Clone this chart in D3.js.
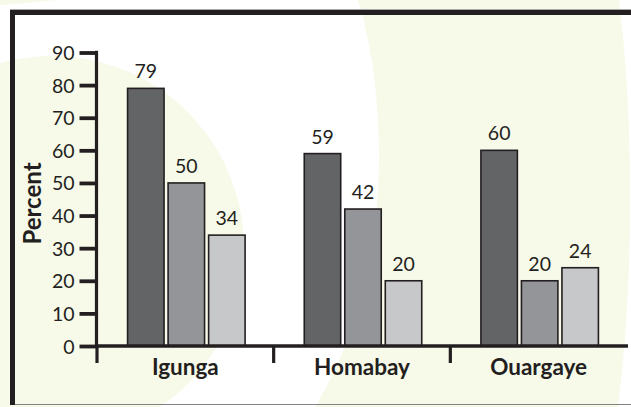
<!DOCTYPE html>
<html>
<head>
<meta charset="utf-8">
<script src="https://cdn.jsdelivr.net/npm/d3@7"></script>
<style>
  html, body { margin: 0; padding: 0; background: #ffffff; }
  svg { display: block; }
  text { font-family: Lato, "Open Sans", sans-serif; fill: #231f20; }
</style>
</head>
<body>
<script>
// Survey sites and the three bars drawn for each
const categories = ["Igunga", "Homabay", "Ouargaye"];
const seriesA = [79, 59, 60];
const seriesB = [50, 42, 20];
const seriesC = [34, 20, 24];
const yTicks = [0, 10, 20, 30, 40, 50, 60, 70, 80, 90];
const yLabel = "Percent";

const W = 631, H = 407;
const ink = "#231f20";
const pale = "#f7f9e9";
const fills = ["#636466", "#939598", "#c7c8ca"];

const svg = d3.select("body").append("svg")
  .attr("width", W).attr("height", H);

// soft decorative shapes behind the chart
const bg = svg.append("g");
bg.append("path").attr("d", "M0,0 L0,5 Q30,3 57,0 Z").attr("fill", pale);
bg.append("circle").attr("cx", 52).attr("cy", 248).attr("r", 192).attr("fill", pale);
bg.append("path")
  .attr("d", "M358,0 C386,90 398,270 315,407 L618,407 C634,280 634,120 619,0 Z")
  .attr("fill", pale);

// frame
svg.append("line").attr("x1", 10).attr("x2", W).attr("y1", 9.5).attr("y2", 9.5)
  .attr("stroke", "#a7a9ac").attr("stroke-width", 1);
svg.append("line").attr("x1", 10).attr("x2", W).attr("y1", 404.5).attr("y2", 404.5)
  .attr("stroke", "#808285").attr("stroke-width", 1.2);
svg.append("rect").attr("x", 10).attr("y", 10).attr("width", W - 10).attr("height", 5).attr("fill", ink);
svg.append("rect").attr("x", 10).attr("y", 10).attr("width", 5).attr("height", 395).attr("fill", ink);

// scales
const x0 = d3.scaleBand().domain(categories).range([97, 627]).padding(0);
const groupW = 117.5;
const inner = (x0.bandwidth() - groupW) / 2 + 1;
const x1 = d3.scaleBand().domain([0, 1, 2]).range([inner, inner + groupW]).paddingInner(0.1);
const y = d3.scaleLinear().domain([0, 90]).range([346, 52.5]);

// bars
const series = [seriesA, seriesB, seriesC];
const rows = [];
categories.forEach((c, i) => series.forEach((s, k) => rows.push({ c, k, v: s[i] })));

const bars = svg.append("g");
bars.selectAll("rect").data(rows).join("rect")
  .attr("x", d => x0(d.c) + x1(d.k))
  .attr("y", d => y(d.v))
  .attr("width", x1.bandwidth())
  .attr("height", d => y(0) - y(d.v))
  .attr("fill", d => fills[d.k])
  .attr("stroke", ink)
  .attr("stroke-width", 1.6);

bars.selectAll("text").data(rows).join("text")
  .attr("x", d => x0(d.c) + x1(d.k) + x1.bandwidth() / 2)
  .attr("y", d => y(d.v) - 10)
  .attr("text-anchor", "middle")
  .attr("font-size", 19.5)
  .text(d => d.v);

// y axis
const yAxis = svg.append("g").attr("transform", "translate(96.5,0)")
  .call(d3.axisLeft(y).tickValues(yTicks).tickSize(17).tickPadding(5).tickSizeOuter(0));
yAxis.select(".domain").attr("stroke", ink).attr("stroke-width", 3.2)
  .attr("d", `M0,${y(90) - 1.8}V${y(0)}`);
yAxis.selectAll(".tick line").attr("stroke", ink).attr("stroke-width", 3.8);
yAxis.selectAll(".tick text").attr("font-size", 19.5).attr("font-family", "Lato, sans-serif")
  .attr("fill", ink).attr("dy", "0.36em");

// x axis line and tick marks at band starts
svg.append("line").attr("x1", 95).attr("x2", 628).attr("y1", y(0)).attr("y2", y(0))
  .attr("stroke", ink).attr("stroke-width", 3.4);
svg.append("g").selectAll("line").data(categories).join("line")
  .attr("x1", d => x0(d)).attr("x2", d => x0(d))
  .attr("y1", y(0)).attr("y2", 363)
  .attr("stroke", ink).attr("stroke-width", 3.2);

svg.append("g").selectAll("text").data(categories).join("text")
  .attr("x", d => x0(d) + x0.bandwidth() / 2)
  .attr("y", 375)
  .attr("text-anchor", "middle")
  .attr("font-size", 22.5)
  .attr("font-weight", 700)
  .text(d => d);

svg.append("text")
  .attr("transform", "translate(41,203.5) rotate(-90)")
  .attr("text-anchor", "middle")
  .attr("font-size", 24)
  .attr("font-weight", 700)
  .text(yLabel);
</script>
</body>
</html>
